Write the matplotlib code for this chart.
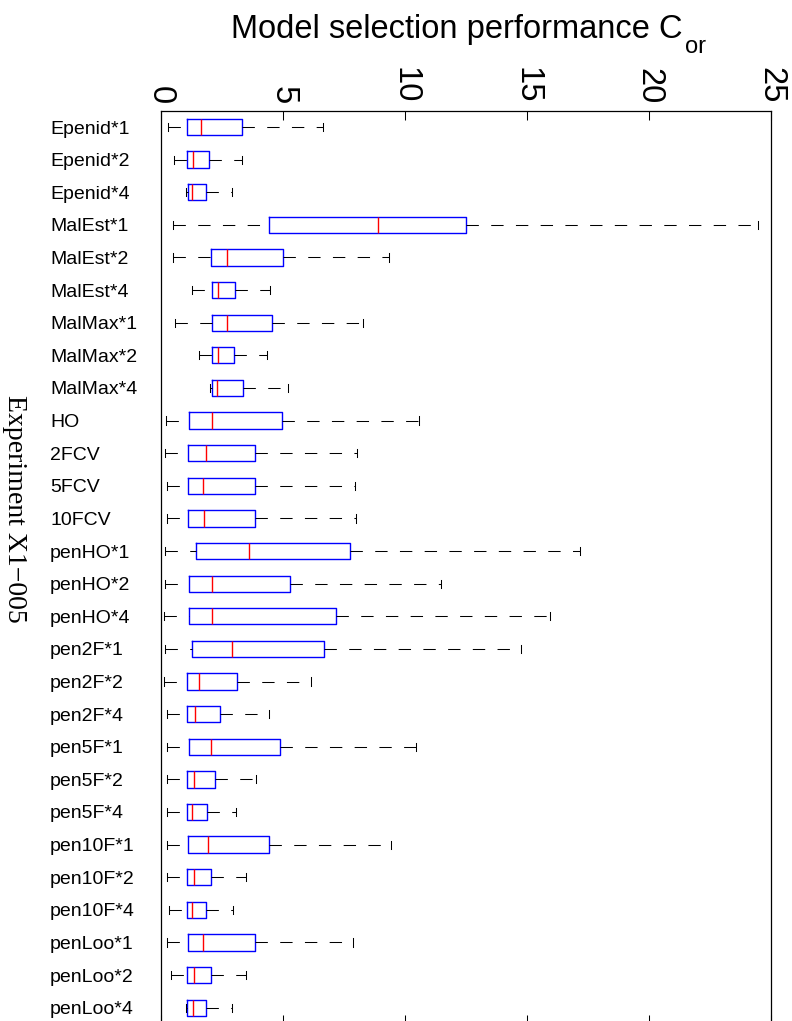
import matplotlib
matplotlib.use('Agg')
import matplotlib.pyplot as plt

labels = ['Epenid*1', 'Epenid*2', 'Epenid*4', 'MalEst*1', 'MalEst*2', 'MalEst*4',
          'MalMax*1', 'MalMax*2', 'MalMax*4', 'HO', '2FCV', '5FCV', '10FCV',
          'penHO*1', 'penHO*2', 'penHO*4', 'pen2F*1', 'pen2F*2', 'pen2F*4',
          'pen5F*1', 'pen5F*2', 'pen5F*4', 'pen10F*1', 'pen10F*2', 'pen10F*4',
          'penLoo*1', 'penLoo*2', 'penLoo*4']

whislo = [0.29, 0.56, 1.02, 0.52, 0.52, 1.30, 0.60, 1.56, 2.04,
          0.20, 0.18, 0.27, 0.27, 0.19, 0.19, 0.15, 0.18, 0.15, 0.25,
          0.27, 0.27, 0.27, 0.27, 0.27, 0.36, 0.27, 0.42, 1.02]
q1 = [1.09, 1.09, 1.11, 4.45, 2.06, 2.09, 2.09, 2.09, 2.09,
      1.16, 1.11, 1.11, 1.11, 1.43, 1.15, 1.17, 1.30, 1.07, 1.07,
      1.16, 1.08, 1.09, 1.13, 1.08, 1.09, 1.12, 1.09, 1.09]
med = [1.64, 1.34, 1.30, 8.89, 2.72, 2.35, 2.73, 2.34, 2.30,
       2.10, 1.87, 1.75, 1.78, 3.61, 2.09, 2.09, 2.94, 1.56, 1.39,
       2.05, 1.38, 1.30, 1.95, 1.35, 1.30, 1.75, 1.37, 1.31]
q3 = [3.32, 1.99, 1.84, 12.50, 5.00, 3.06, 4.58, 2.99, 3.36,
      4.96, 3.88, 3.87, 3.88, 7.75, 5.31, 7.20, 6.71, 3.11, 2.42,
      4.89, 2.21, 1.90, 4.45, 2.06, 1.86, 3.85, 2.06, 1.84]
whishi = [6.65, 3.35, 2.91, 24.47, 9.37, 4.49, 8.29, 4.36, 5.20,
          10.60, 8.05, 7.98, 8.01, 17.17, 11.50, 15.97, 14.77, 6.16, 4.43,
          10.46, 3.92, 3.10, 9.44, 3.50, 2.95, 7.88, 3.50, 2.94]

xticks = [0, 5, 10, 15, 20, 25]

plt.rcParams['font.family'] = ['Liberation Sans', 'DejaVu Sans']
plt.rcParams['lines.scale_dashes'] = False

W, H = 792, 1021
fig = plt.figure(figsize=(W / 100, H / 100), dpi=100)
ax = fig.add_axes([160.7 / W, 1 - 1024 / H, 610 / W, (1024 - 110.7) / H])

stats = []
for i in range(len(labels)):
    stats.append({'whislo': whislo[i], 'q1': q1[i], 'med': med[i],
                  'q3': q3[i], 'whishi': whishi[i], 'fliers': []})

pos = list(range(1, len(labels) + 1))
bp = ax.bxp(stats, positions=pos, widths=0.5, orientation='horizontal',
            showfliers=False,
            boxprops=dict(color='blue', linewidth=1.0),
            medianprops=dict(color='red', linewidth=1.0),
            whiskerprops=dict(color='black', linewidth=0.75, linestyle=(0, (8.9, 8.9))),
            capprops=dict(color='black', linewidth=0.75))

# lower whisker dashes start at the cap end
for w in bp['whiskers'][0::2]:
    xd, yd = w.get_data()
    w.set_data(xd[::-1], yd[::-1])

ax.set_xlim(0, 25)
ax.set_ylim(len(labels) + 0.5, 0.5)
ax.set_xticks(xticks)
ax.set_xticklabels([str(t) for t in xticks])
ax.tick_params(axis='x', top=True, bottom=True, labeltop=True, labelbottom=False,
               direction='in', length=6.5, width=0.75, labelsize=23.5,
               labelrotation=-90, pad=5)
ax.set_yticks(pos)
ax.set_yticklabels(labels)
ax.tick_params(axis='y', length=0, labelsize=14, pad=79.7)
for t in ax.get_yticklabels():
    t.set_horizontalalignment('left')
for s in ax.spines.values():
    s.set_linewidth(0.9)

fig.text(457 / W, 1 - 38 / H, 'Model selection performance C', ha='center',
         va='baseline', fontsize=23.5)
fig.text(685 / W, 1 - 53 / H, 'or', ha='left', va='baseline', fontsize=17)
fig.text(14 / W, 1 - 509 / H, 'Experiment X1\u2212005', rotation=-90,
         ha='center', va='center', fontsize=20, family=['Liberation Serif', 'DejaVu Serif'])

fig.savefig('out.png', dpi=100)
